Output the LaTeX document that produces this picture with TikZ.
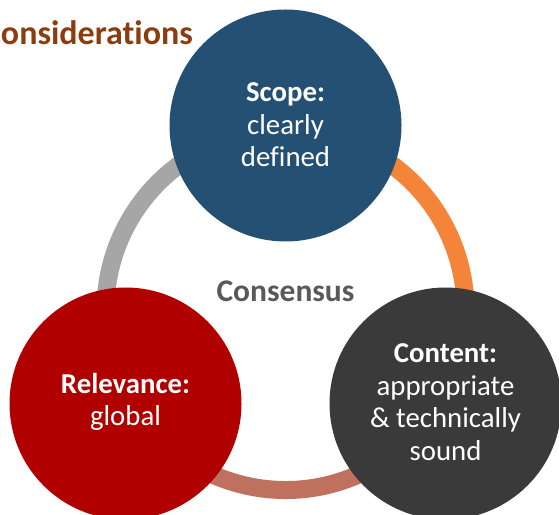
\documentclass[tikz,border=0pt]{standalone}
\usepackage{fontspec}
\setmainfont{Carlito}[Ligatures={NoCommon}]
\definecolor{topblue}{HTML}{245173}
\definecolor{relred}{HTML}{B00000}
\definecolor{contgray}{HTML}{3A3A3A}
\definecolor{arcgray}{HTML}{A6A6A6}
\definecolor{arcorange}{HTML}{F4843A}
\definecolor{arcbrown}{HTML}{C0705F}
\definecolor{titlebrown}{HTML}{8C3D10}
\definecolor{consgray}{HTML}{595959}
\begin{document}
\begin{tikzpicture}[x=1pt,y=1pt,
  bigcircle/.style={circle,minimum size=232pt,inner sep=0pt},
  circtext/.style={text=white,align=center,inner sep=0pt,font=\fontsize{28.8}{32.5}\selectfont},
  ringarc/.style={line width=18pt}]
\useasboundingbox (0,0) rectangle (559,514);
\coordinate (ctr) at (285.5,204);
% ring arcs
\draw[ringarc,arcgray] (ctr) ++(90:180) arc[start angle=90,end angle=210,radius=180];
\draw[ringarc,arcorange] (ctr) ++(-30:180) arc[start angle=-30,end angle=90,radius=180];
\draw[ringarc,arcbrown] (ctr) ++(210:180) arc[start angle=210,end angle=330,radius=180];
% title
\node[anchor=base east,inner sep=0pt,text=titlebrown,font=\bfseries\fontsize{34}{40}\selectfont] (title) at (193,469) {Considerations};
% circles
\node[bigcircle,fill=topblue] (scope) at (285.5,388.5) {};
\node[bigcircle,fill=relred] (rel) at (125.5,110.5) {};
\node[bigcircle,fill=contgray] (cont) at (445.5,110.5) {};
% texts
\node[circtext] (scopet) at (285.5,389) {\textbf{Scope:}\\clearly\\defined};
\node[circtext] (relt) at (125.5,112) {\textbf{Relevance:}\\global};
\node[circtext] (contt) at (445.5,112) {\textbf{Content:}\\appropriate\\\&~technically\\sound};
\node[inner sep=0pt,text=consgray,font=\bfseries\fontsize{31.5}{36}\selectfont,anchor=base] (cons) at (285.5,212) {Consensus};
\end{tikzpicture}
\end{document}
